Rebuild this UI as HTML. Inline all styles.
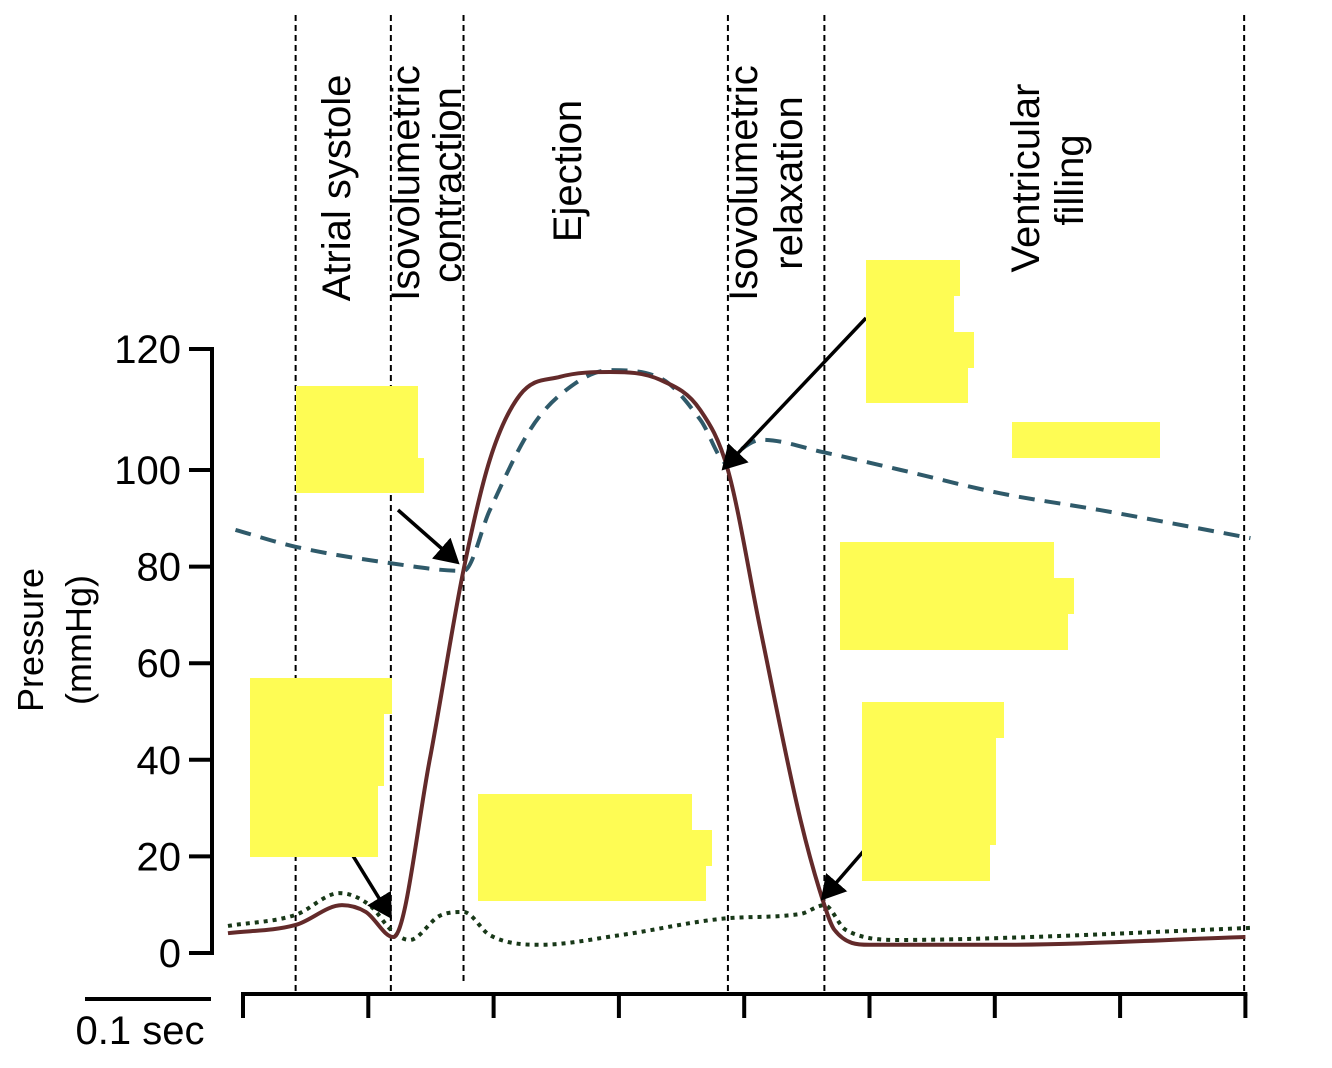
<!DOCTYPE html>
<html><head><meta charset="utf-8"><style>
html,body{margin:0;padding:0;background:#fff;}
svg{display:block;font-family:"Liberation Sans",Arial,sans-serif;}
</style></head><body>
<svg id="chart" width="1332" height="1068" viewBox="0 0 1332 1068">
<defs><marker id="ah" markerWidth="8" markerHeight="8" refX="6" refY="4" orient="auto" markerUnits="strokeWidth"><path d="M0,0 L7,4 L0,8 z" fill="#000"/></marker></defs>
<g id="phases"></g>
<g id="phaseLabels" font-size="40" fill="#000"></g>
<g id="yaxis"></g>
<g id="xaxis"></g>
<g id="series"></g>
<g id="arrows"></g>
<g id="boxes"></g>
<text x="0" y="0" transform="translate(43,640) rotate(-90)" text-anchor="middle" font-size="36">Pressure</text>
<text x="0" y="0" transform="translate(91,640) rotate(-90)" text-anchor="middle" font-size="36">(mmHg)</text>
<line x1="85" y1="999" x2="211" y2="999" stroke="#000" stroke-width="4"/>
<text x="140" y="1044" text-anchor="middle" font-size="40">0.1 sec</text>
</svg>
<script>
const yTicks=[0,20,40,60,80,100,120];
const xTickTimes=[0,0.1,0.2,0.3,0.4,0.5,0.6,0.7,0.8];
const phaseTimes=[0.042,0.118,0.176,0.387,0.464,0.799];
const ventT=[-0.012,0.042,0.079,0.098,0.12,0.149,0.176,0.197,0.221,0.253,0.293,0.333,0.365,0.387,0.413,0.445,0.464,0.472,0.5,0.604,0.8];
const ventV=[4.1,5.8,9.9,8.5,3.3,40,79.3,101.7,112.4,115.4,116.2,114.9,109.9,100,66.9,27.5,9.9,4.8,1.7,1.7,3.3];
const aortaT=[-0.006,0.042,0.118,0.176,0.197,0.229,0.253,0.293,0.333,0.365,0.387,0.397,0.414,0.464,0.525,0.604,0.684,0.804];
const aortaV=[87.6,84.1,80.7,79.1,91.7,106.6,112.4,116.5,115.2,108.3,101,103.3,105,102.9,100,95.2,91.7,85.9];
const atrT=[-0.012,0.042,0.077,0.101,0.12,0.133,0.157,0.176,0.197,0.237,0.301,0.387,0.445,0.464,0.481,0.525,0.604,0.804];
const atrV=[5.6,7.9,12.4,9.9,4.3,2.7,7.7,8.5,3.7,1.7,3.7,7.2,8.1,9.9,4.8,2.7,3.1,5.2];
const X=t=>243+t*1253;
const Y=v=>v<=100?953-v*4.83:470-(v-100)*6.05;
const NS='http://www.w3.org/2000/svg';
function mk(tag,attrs,parent){const e=document.createElementNS(NS,tag);for(const k in attrs)e.setAttribute(k,attrs[k]);parent.appendChild(e);return e;}
const g=id=>document.getElementById(id);
phaseTimes.forEach((t,i)=>{
 const l=mk('line',{x1:X(t),x2:X(t),y1:15,y2:i==2?984:994,stroke:'#000','stroke-width':2,'stroke-dasharray':'6,4'},g('phases'));
 
 
});
const labels=[[350,188,'Atrial systole'],[419,183,'Isovolumetric'],[461,185,'contraction'],[581,171,'Ejection'],[757,183,'Isovolumetric'],[802,183,'relaxation'],[1039,178,'Ventricular'],[1083,180,'filling']];
labels.forEach(([bx,cy,s])=>{
 const tx=mk('text',{transform:`translate(${bx},${cy}) rotate(-90)`,'text-anchor':'middle'},g('phaseLabels'));
 tx.textContent=s;
 
 
});
mk('line',{x1:212,x2:212,y1:Y(120)-2,y2:Y(0)+2,stroke:'#000','stroke-width':4},g('yaxis'));
yTicks.forEach(v=>{
 mk('line',{x1:189,x2:212,y1:Y(v),y2:Y(v),stroke:'#000','stroke-width':4},g('yaxis'));
 const t=mk('text',{x:181,y:Y(v)+14,'text-anchor':'end','font-size':40},g('yaxis'));
 t.textContent=v;
 
 
});
mk('line',{x1:X(0)-2,x2:X(0.8)+2,y1:994,y2:994,stroke:'#000','stroke-width':4},g('xaxis'));
xTickTimes.forEach(t=>{
 const l=mk('line',{x1:X(t),x2:X(t),y1:994,y2:1018,stroke:'#000','stroke-width':4},g('xaxis'));
 
 
});
function path(T,V){
 const p=T.map((t,i)=>[X(t),Y(V[i])]);const n=p.length;
 const d=[],m=[];
 for(let i=0;i<n-1;i++)d.push((p[i+1][1]-p[i][1])/(p[i+1][0]-p[i][0]));
 for(let i=0;i<n;i++){
  if(i==0)m.push(d[0]);else if(i==n-1)m.push(d[n-2]);
  else m.push(d[i-1]*d[i]<=0?0:(d[i-1]+d[i])/2);
 }
 for(let i=0;i<n-1;i++){
  if(d[i]==0){m[i]=0;m[i+1]=0;continue;}
  const a=m[i]/d[i],b=m[i+1]/d[i],s=a*a+b*b;
  if(s>9){const t=3/Math.sqrt(s);m[i]=t*a*d[i];m[i+1]=t*b*d[i];}
 }
 let s=`M${p[0][0]},${p[0][1]}`;
 for(let i=0;i<n-1;i++){
  const h=(p[i+1][0]-p[i][0])/3;
  s+=` C${p[i][0]+h},${p[i][1]+m[i]*h} ${p[i+1][0]-h},${p[i+1][1]-m[i+1]*h} ${p[i+1][0]},${p[i+1][1]}`;
 }
 return s;
}
const a=mk('path',{d:path(aortaT,aortaV),fill:'none',stroke:'#2f5a6a','stroke-width':4,'stroke-dasharray':'16,10'},g('series'));


const at=mk('path',{d:path(atrT,atrV),fill:'none',stroke:'#183818','stroke-width':4,'stroke-dasharray':'4,5'},g('series'));


const v=mk('path',{d:path(ventT,ventV),fill:'none',stroke:'#632a2a','stroke-width':4},g('series'));


[[398,510,457,562],[342,838,390,916],[866,318,724,468],[868,846,823,898]].forEach(([x1,y1,x2,y2])=>{
 const l=mk('line',{x1,y1,x2,y2,stroke:'#000','stroke-width':3.5,'marker-end':'url(#ah)'},g('arrows'));
 
 
});
const rects=[[296,386,122,72],[296,458,128,35],
[250,678,142,36],[250,714,134,72],[250,786,128,71],
[478,794,214,36],[478,830,234,36],[478,866,228,35],
[866,260,94,36],[866,296,88,36],[866,332,108,36],[866,368,102,35],
[1012,422,148,36],
[840,542,214,36],[840,578,234,36],[840,614,228,36],
[862,702,142,36],[862,738,134,107],[862,845,128,36]];
rects.forEach(([x,y,w,h])=>{
 const r=mk('rect',{x,y,width:w,height:h,fill:'#fefc54'},g('boxes'));
 
 
});
</script>
</body></html>
